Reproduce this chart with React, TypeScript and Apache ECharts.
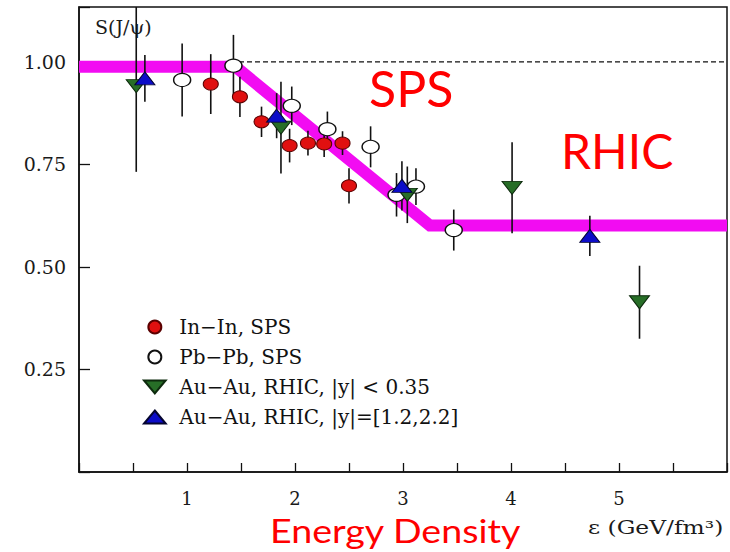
import React, { useEffect, useRef } from "react";
import * as echarts from "echarts";

// Energy density (GeV/fm^3) and J/psi survival probability with symmetric errors
const inInX = [1.22, 1.49, 1.69, 1.95, 2.12, 2.27, 2.44, 2.5];
const inInY = [0.946, 0.915, 0.854, 0.796, 0.802, 0.8, 0.802, 0.698];
const inInErr = [0.073, 0.049, 0.037, 0.041, 0.03, 0.032, 0.029, 0.043];

const pbPbX = [0.955, 1.43, 1.97, 2.3, 2.7, 2.94, 3.12, 3.47];
const pbPbY = [0.956, 0.991, 0.893, 0.836, 0.793, 0.676, 0.696, 0.59];
const pbPbErr = [0.089, 0.075, 0.047, 0.043, 0.05, 0.053, 0.045, 0.05];

const auMidX = [0.53, 1.87, 3.04, 4.01, 5.19];
const auMidY = [0.941, 0.84, 0.676, 0.693, 0.414];
const auMidErr = [0.209, 0.112, 0.069, 0.111, 0.089];

const auFwdX = [0.61, 1.83, 2.99, 4.73];
const auFwdY = [0.96, 0.869, 0.698, 0.576];
const auFwdErr = [0.057, 0.055, 0.06, 0.049];

// Sequential-suppression band
const bandX = [0, 1.45, 3.25, 6];
const bandY = [0.988, 0.988, 0.601, 0.601];

// Unit reference line
const refX = [0, 6];
const refY = [1, 1];

const xLabels = [1, 2, 3, 4, 5];
const yLabels = [0.25, 0.5, 0.75, 1.0];

const seriesNames = [
  "In\u2212In, SPS",
  "Pb\u2212Pb, SPS",
  "Au\u2212Au, RHIC, |y| < 0.35",
  "Au\u2212Au, RHIC, |y|=[1.2,2.2]",
];

const X_MAX = 6;
const Y_MAX = 1.134;

const DOWN_TRI = "path://M0,0L20,0L10,12Z";
const UP_TRI = "path://M10,0L20,12L0,12Z";

const SERIF = "DejaVu Serif";

function pairs(xs: number[], ys: number[]) {
  return xs.map((x, i) => [x, ys[i]]);
}

function errRows(xs: number[], ys: number[], es: number[]) {
  return xs.map((x, i) => [x, ys[i] - es[i], ys[i] + es[i]]);
}

export default function App() {
  const ref = useRef<HTMLDivElement>(null);

  useEffect(() => {
    if (!ref.current) return;
    const chart = echarts.init(ref.current, undefined, { renderer: "svg" });

    const errData = [
      ...errRows(inInX, inInY, inInErr),
      ...errRows(pbPbX, pbPbY, pbPbErr),
      ...errRows(auMidX, auMidY, auMidErr),
      ...errRows(auFwdX, auFwdY, auFwdErr),
    ];

    const option: any = {
      animation: false,
      backgroundColor: "#ffffff",
      grid: {
        left: 79,
        right: 2,
        top: 7,
        bottom: 80,
        show: true,
        borderColor: "#111",
        borderWidth: 1.5,
        backgroundColor: "transparent",
      },
      xAxis: {
        type: "value",
        min: 0,
        max: X_MAX,
        interval: 0.5,
        axisLine: { show: true, lineStyle: { color: "#111", width: 1.5 } },
        axisTick: { show: true, inside: true, length: 9, lineStyle: { color: "#111", width: 1.3 } },
        splitLine: { show: false },
        axisLabel: {
          margin: 17,
          fontFamily: SERIF,
          fontSize: 18,
          color: "#1a1a1a",
          formatter: (v: number) => (xLabels.includes(v) ? String(v) : ""),
        },
      },
      yAxis: {
        type: "value",
        min: 0,
        max: Y_MAX,
        interval: 0.25,
        axisLine: { show: true, lineStyle: { color: "#111", width: 1.5 } },
        axisTick: { show: true, inside: true, length: 11, lineStyle: { color: "#111", width: 1.3 } },
        splitLine: { show: false },
        axisLabel: {
          margin: 13,
          fontFamily: SERIF,
          fontSize: 19,
          color: "#1a1a1a",
          formatter: (v: number) => {
            const hit = yLabels.find((t) => Math.abs(t - v) < 1e-6);
            return hit !== undefined ? hit.toFixed(2) : "";
          },
        },
      },
      legend: {
        orient: "vertical",
        left: 143,
        top: 317,
        padding: 0,
        itemWidth: 39,
        itemHeight: 13,
        itemGap: 10,
        selectedMode: false,
        textStyle: { fontFamily: SERIF, fontSize: 20, lineHeight: 20, color: "#111" },
        data: [
          { name: seriesNames[0], icon: "circle" },
          { name: seriesNames[1], icon: "circle" },
          { name: seriesNames[2], icon: DOWN_TRI },
          { name: seriesNames[3], icon: UP_TRI },
        ],
      },
      series: [
        {
          name: "reference",
          type: "line",
          data: pairs(refX, refY),
          symbol: "none",
          lineStyle: { color: "#111", width: 1.2, type: [5, 3] },
          z: 1,
        },
        {
          name: "band",
          type: "line",
          data: pairs(bandX, bandY),
          symbol: "none",
          lineStyle: { color: "#f20cf2", width: 12, join: "miter", cap: "butt" },
          z: 2,
        },
        {
          name: "errors",
          type: "custom",
          data: errData,
          encode: { x: 0, y: [1, 2] },
          z: 3,
          renderItem: (_params: any, api: any) => {
            const x = api.value(0);
            const lo = Math.max(api.value(1), 0);
            const hi = Math.min(api.value(2), Y_MAX);
            const p1 = api.coord([x, lo]);
            const p2 = api.coord([x, hi]);
            return {
              type: "line",
              shape: { x1: p1[0], y1: p1[1], x2: p2[0], y2: p2[1] },
              style: { stroke: "#111", lineWidth: 1.6 },
            };
          },
        },
        {
          name: seriesNames[0],
          type: "scatter",
          data: pairs(inInX, inInY),
          symbol: "circle",
          symbolSize: [15, 12],
          itemStyle: { color: "#e01010", borderColor: "#5a0000", borderWidth: 1, opacity: 1 },
          z: 4,
        },
        {
          name: seriesNames[1],
          type: "scatter",
          data: pairs(pbPbX, pbPbY),
          symbol: "circle",
          symbolSize: [17, 13],
          itemStyle: { color: "#ffffff", borderColor: "#111", borderWidth: 1.3, opacity: 1 },
          z: 4,
        },
        {
          name: seriesNames[2],
          type: "scatter",
          data: pairs(auMidX, auMidY),
          symbol: DOWN_TRI,
          symbolKeepAspect: false,
          symbolSize: [20, 13],
          itemStyle: { color: "#276e27", borderColor: "#0d2a0d", borderWidth: 1, opacity: 1 },
          z: 4,
        },
        {
          name: seriesNames[3],
          type: "scatter",
          data: pairs(auFwdX, auFwdY),
          symbol: UP_TRI,
          symbolKeepAspect: false,
          symbolSize: [20, 13],
          itemStyle: { color: "#0c0cc8", borderColor: "#050530", borderWidth: 1, opacity: 1 },
          z: 5,
        },
      ],
      graphic: [
        {
          type: "text",
          left: 95,
          top: 17,
          style: { text: "S(J/\u03c8)", fontFamily: SERIF, fontSize: 19, fill: "#1a1a1a" },
        },
        {
          type: "text",
          x: 588,
          y: 528,
          scaleX: 1.3,
          style: {
            text: "\u03b5 (GeV/fm\u00b3)",
            fontFamily: SERIF,
            fontSize: 18,
            fill: "#1a1a1a",
            align: "left",
            verticalAlign: "middle",
          },
        },
        {
          type: "text",
          x: 369,
          y: 88,
          style: {
            text: "SPS",
            fontFamily: "Lato",
            fontSize: 50,
            fill: "#ff0000",
            align: "left",
            verticalAlign: "middle",
          },
        },
        {
          type: "text",
          x: 561,
          y: 150,
          style: {
            text: "RHIC",
            fontFamily: "Lato",
            fontSize: 48,
            fill: "#ff0000",
            align: "left",
            verticalAlign: "middle",
          },
        },
        {
          type: "text",
          x: 270,
          y: 530,
          scaleX: 1.14,
          style: {
            text: "Energy Density",
            fontFamily: "Lato",
            fontSize: 33,
            fill: "#ff0000",
            align: "left",
            verticalAlign: "middle",
          },
        },
      ],
    };

    chart.setOption(option);
    return () => chart.dispose();
  }, []);

  return (
    <div
      ref={ref}
      style={{ position: "absolute", left: 0, top: 0, width: 730, height: 552 }}
    />
  );
}
